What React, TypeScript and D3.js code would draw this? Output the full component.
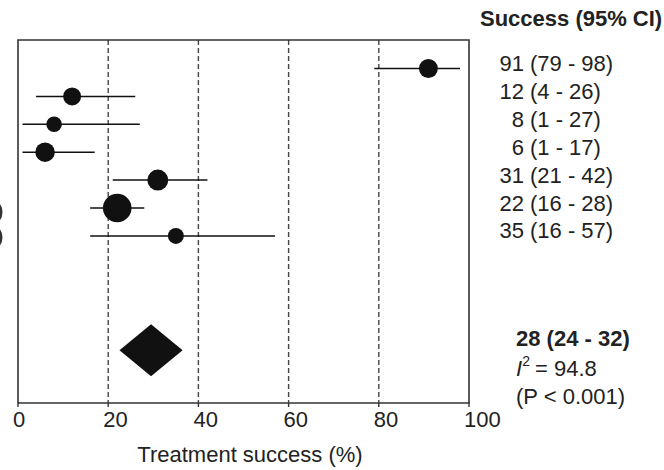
import React, {useEffect, useRef} from 'react'
import * as d3 from 'd3'

// study rows
const estimates = [91, 12, 8, 6, 31, 22, 35];
const lower = [79, 4, 1, 1, 21, 16, 16];
const upper = [98, 26, 27, 17, 42, 28, 57];
const weights = [90, 81, 61, 96, 110, 205, 64];
const labelNumbers = ["91", "12", "8", "6", "31", "22", "35"];
const labelIntervals = ["(79 - 98)", "(4 - 26)", "(1 - 27)", "(1 - 17)", "(21 - 42)", "(16 - 28)", "(16 - 57)"];

// pooled diamond as drawn (left, centre, right)
const diamond = [22.5, 29.5, 36.5];
const diamondRow = 10.1;
const summaryLines = ["28 (24 - 32)", "= 94.8", "(P < 0.001)"];

const xTicks = [0, 20, 40, 60, 80, 100];
const gridTicks = [20, 40, 60, 80];

const width = 664;
const height = 470;
const frame = ({top: 40, right: 469, bottom: 403, left: 18});
const font = "'Liberation Sans', Arial, sans-serif";

export default function App() {
    const ref = useRef<SVGSVGElement>(null);

    useEffect(() => {
        const svg = d3.select(ref.current);
        svg.selectAll("*").remove();

        const x = d3.scaleLinear().domain([0, 100]).range([frame.left, frame.right]);
        const y = d3.scaleLinear().domain([0, 1]).range([68.5, 96.4]);
        const r = d3.scaleSqrt().domain([0, d3.max(weights)]).range([0, 14.3]);

        // grid
        svg.append("g")
            .selectAll("line")
            .data(gridTicks)
            .join("line")
            .attr("x1", d => x(d)).attr("x2", d => x(d))
            .attr("y1", frame.top).attr("y2", frame.bottom)
            .attr("stroke", "#444")
            .attr("stroke-width", 1.4)
            .attr("stroke-dasharray", "5,3");

        // frame
        svg.append("path")
            .attr("d", `M${frame.left},${frame.bottom}V${frame.top}H${frame.right}V${frame.bottom}H${frame.left}`)
            .attr("fill", "none")
            .attr("stroke", "#333")
            .attr("stroke-width", 1.6);

        // axis ticks + labels
        const axis = svg.append("g");
        axis.selectAll("line")
            .data(xTicks)
            .join("line")
            .attr("x1", d => x(d)).attr("x2", d => x(d))
            .attr("y1", frame.bottom).attr("y2", frame.bottom + 4)
            .attr("stroke", "#333")
            .attr("stroke-width", 1.4);
        axis.selectAll("text")
            .data(xTicks)
            .join("text")
            .attr("x", d => x(d) - 5)
            .attr("y", 427)
            .attr("font-family", font)
            .attr("font-size", 22)
            .attr("fill", "#222")
            .text(d => d);

        svg.append("text")
            .attr("x", 250)
            .attr("y", 462)
            .attr("text-anchor", "middle")
            .attr("font-family", font)
            .attr("font-size", 22)
            .attr("fill", "#222")
            .text("Treatment success (%)");

        // confidence intervals
        svg.append("g")
            .selectAll("line")
            .data(estimates)
            .join("line")
            .attr("x1", (d, i) => x(lower[i])).attr("x2", (d, i) => x(upper[i]))
            .attr("y1", (d, i) => y(i)).attr("y2", (d, i) => y(i))
            .attr("stroke", "#111")
            .attr("stroke-width", 1.5);

        svg.append("g")
            .selectAll("circle")
            .data(estimates)
            .join("circle")
            .attr("cx", d => x(d))
            .attr("cy", (d, i) => y(i))
            .attr("r", (d, i) => r(weights[i]))
            .attr("fill", "#111");

        // pooled diamond
        const dy = y(diamondRow);
        const halfH = 26;
        svg.append("path")
            .attr("d", `M${x(diamond[0])},${dy}L${x(diamond[1])},${dy - halfH}L${x(diamond[2])},${dy}L${x(diamond[1])},${dy + halfH}Z`)
            .attr("fill", "#111");

        // right-hand column
        svg.append("text")
            .attr("x", 480)
            .attr("y", 26)
            .attr("font-family", font)
            .attr("font-size", 22)
            .attr("font-weight", "bold")
            .attr("fill", "#222")
            .text("Success (95% CI)");

        const labels = svg.append("g")
            .attr("font-family", font)
            .attr("font-size", 22)
            .attr("fill", "#222");
        labels.selectAll("text.num")
            .data(labelNumbers)
            .join("text")
            .attr("class", "num")
            .attr("x", 524)
            .attr("y", (d, i) => y(i) + 2.5)
            .attr("text-anchor", "end")
            .text(d => d);
        labels.selectAll("text.ci")
            .data(labelIntervals)
            .join("text")
            .attr("class", "ci")
            .attr("x", 530)
            .attr("y", (d, i) => y(i) + 2.5)
            .text(d => d);

        const summary = svg.append("g")
            .attr("font-family", font)
            .attr("font-size", 22)
            .attr("fill", "#222");
        summary.append("text")
            .attr("x", 516)
            .attr("y", dy - 4)
            .attr("font-weight", "bold")
            .text(summaryLines[0]);
        const i2 = summary.append("text")
            .attr("x", 516)
            .attr("y", dy + 26);
        i2.append("tspan").attr("font-style", "italic").text("I");
        i2.append("tspan").attr("font-size", 14).attr("dy", -10).attr("dx", 0).text("2");
        i2.append("tspan").attr("dy", 10).attr("dx", -1).text(" " + summaryLines[1]);
        summary.append("text")
            .attr("x", 516)
            .attr("y", dy + 54)
            .text(summaryLines[2]);

        // clipped marks at the very left edge
        svg.append("g")
            .selectAll("ellipse")
            .data([5.15, 6.05])
            .join("ellipse")
            .attr("cx", -8)
            .attr("cy", d => y(d))
            .attr("rx", 9)
            .attr("ry", 11)
            .attr("fill", "none")
            .attr("stroke", "#333")
            .attr("stroke-width", 3);
    }, []);

    return <svg ref={ref} width={width} height={height}
                style={{position: "absolute", left: 0, top: 0, background: "#fff"}}/>;
}
